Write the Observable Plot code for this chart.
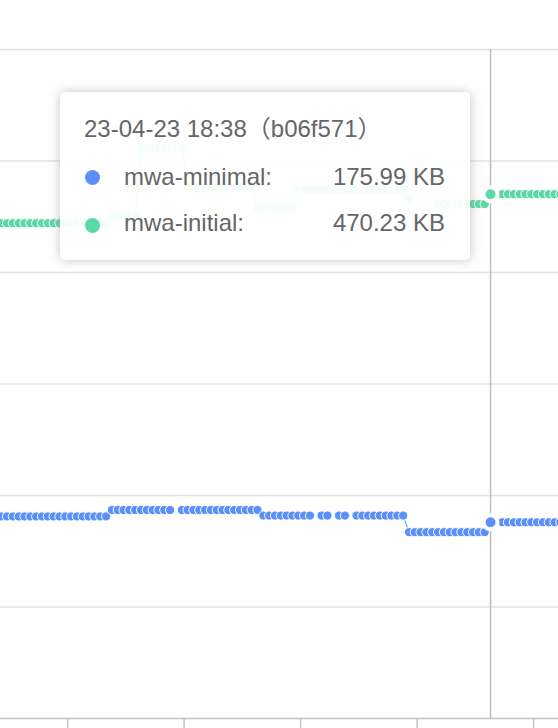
<!DOCTYPE html>
<html>
<head>
<meta charset="utf-8">
<script src="https://cdn.jsdelivr.net/npm/d3@7"></script>
<script src="https://cdn.jsdelivr.net/npm/@observablehq/plot@0.6"></script>
<style>
  html, body { margin: 0; padding: 0; background: #fff; }
  #wrap { position: relative; width: 558px; height: 728px; overflow: hidden; }
  #tip {
    position: absolute; left: 60px; top: 92px; width: 410px; height: 168px;
    background: rgba(255,255,255,0.93); border-radius: 5px;
    box-shadow: 0 0 11px rgba(150,150,150,0.55);
    font-family: "Liberation Sans", Arial, "Noto Sans CJK SC", sans-serif;
    font-size: 24px; line-height: 24px; color: #666;
  }
  #tip .t { position: absolute; white-space: nowrap; }
  #tip .d { position: absolute; width: 15px; height: 15px; border-radius: 50%; }
</style>
</head>
<body>
<div id="wrap"></div>
<script>
// commit index along the x axis (visible part)
const commits = [
   0, 1, 2, 3, 4, 5, 6, 7, 8, 9,10,11,12,13,14,15,16,17,18,19,
  20,21,22,23,24,25,26,27,28,29,30,31,32,33,34,35,36,37,38,39,
  40,41,42,43,44,45,46,47,48,49,50,51,52,53,54,55,56,57,58,59,
  60,61,62,63,64,65,66,67,68,69,70,71,72,73,74,75,76,77,78,79,
  80,81,82,83,84,85,86,87,88,89,90,91,92,93,94,95,96
];
// mwa-minimal size (KB)
const minimal = [
  181.2,181.2,181.2,181.2,181.2,181.2,181.2,181.2,181.2,181.2,
  181.2,181.2,181.2,181.2,181.2,181.2,181.2,181.2,181.2,187.0,
  187.0,187.0,187.0,187.0,187.0,187.0,187.0,187.0,187.0,187.0,
  null, 187.0,187.0,187.0,187.0,187.0,187.0,187.0,187.0,187.0,
  187.0,187.0,187.0,187.0,187.0,182.0,182.0,182.0,182.0,182.0,
  182.0,182.0,182.0,182.0,null, 182.0,182.0,null, 182.0,182.0,
  null, 182.0,182.0,182.0,182.0,182.0,182.0,182.0,182.0,182.0,
  167.1,167.1,167.1,167.1,167.1,167.1,167.1,167.1,167.1,167.1,
  167.1,167.1,167.1,167.1,175.99,175.99,175.99,175.99,175.99,175.99,
  175.99,175.99,175.99,175.99,175.99,175.99,175.99
];
// mwa-initial size (KB)
const initial = [
  444.2,444.2,444.2,444.2,444.2,444.2,444.2,444.2,444.2,444.2,
  444.2,444.2,444.2,444.2,444.2,444.2,444.2,444.2,444.2,450.5,
  450.5,450.5,450.5,450.5,512.0,512.0,512.0,512.0,512.0,512.0,
  512.0,512.0,477.0,477.0,477.0,477.0,477.0,477.0,477.0,477.0,
  477.0,477.0,477.0,477.0,458.3,458.3,458.3,458.3,458.3,458.3,
  458.3,474.4,474.4,474.4,474.4,474.4,474.4,474.4,474.4,474.4,
  474.4,474.4,474.4,474.4,474.4,474.4,474.4,474.4,474.4,474.4,
  466.4,null, null, null, null, 461.4,461.4,461.4,461.4,461.4,
  461.4,461.4,461.4,461.4,470.23,470.23,470.23,470.23,470.23,470.23,
  470.23,470.23,470.23,470.23,470.23,470.23,470.23
];
const yTicks = [0, 100, 200, 300, 400, 500, 600];
const xTicks = [11.4, 31.4, 51.4, 71.4, 91.4];
const hovered = 84;
const seriesNames = ["mwa-minimal", "mwa-initial"];
const colors = ["#5B8FF9", "#5AD8A6"];
const tipTitle = "23-04-23 18:38（b06f571）";
const tipValues = ["175.99 KB", "470.23 KB"];

const rows = [];
commits.forEach((c, i) => {
  rows.push({x: c, y: minimal[i], s: seriesNames[0]});
  rows.push({x: c, y: initial[i], s: seriesNames[1]});
});
const byS = s => rows.filter(r => r.s === s);
const hov = rows.filter(r => r.x === hovered);

const chart = Plot.plot({
  width: 558, height: 728,
  marginTop: 49, marginBottom: 10, marginLeft: 0, marginRight: 0,
  x: {domain: [-0.12, 95.67], axis: null},
  y: {domain: [0, 600], axis: null},
  color: {domain: seriesNames, range: colors},
  marks: [
    Plot.ruleY(yTicks.filter(v => v > 0), {stroke: "#e2e2e2", strokeWidth: 1.5}),
    Plot.ruleY([0], {stroke: "#c4c4c4", strokeWidth: 1.5}),
    Plot.axisX({ticks: xTicks, tickSize: 10, tickFormat: () => "", label: null, stroke: "#c4c4c4", strokeWidth: 1.5}),
    Plot.ruleX([hovered], {y1: 0, y2: 600, stroke: "#bdbdbd", strokeWidth: 1.5}),
    ...seriesNames.map((s, k) => Plot.line(byS(s), {x: "x", y: "y", stroke: colors[k], strokeWidth: 1})),
    ...seriesNames.map((s, k) => Plot.dot(byS(s).filter(r => r.x !== hovered && r.y != null), {x: "x", y: "y", r: 4.6, fill: colors[k], stroke: "#fff", strokeWidth: 1})),
    Plot.dot(hov, {x: "x", y: "y", r: 7, fill: "s", stroke: "#fff", strokeWidth: 4})
  ]
});
const wrap = document.getElementById("wrap");
wrap.appendChild(chart);

const tip = document.createElement("div");
tip.id = "tip";
const title = document.createElement("div");
title.className = "t"; title.style.left = "24px"; title.style.top = "24.7px";
title.textContent = tipTitle;
tip.appendChild(title);
const tops = [72.7, 119.4];
const dotTops = [77.8, 125.5];
seriesNames.forEach((s, k) => {
  const d = document.createElement("div");
  d.className = "d"; d.style.left = "24.5px"; d.style.top = dotTops[k] + "px";
  d.style.background = colors[k];
  tip.appendChild(d);
  const n = document.createElement("div");
  n.className = "t"; n.style.left = "64px"; n.style.top = tops[k] + "px";
  n.textContent = s + ":";
  tip.appendChild(n);
  const v = document.createElement("div");
  v.className = "t"; v.style.right = "25px"; v.style.top = tops[k] + "px";
  v.textContent = tipValues[k];
  tip.appendChild(v);
});
wrap.appendChild(tip);
</script>
</body>
</html>
